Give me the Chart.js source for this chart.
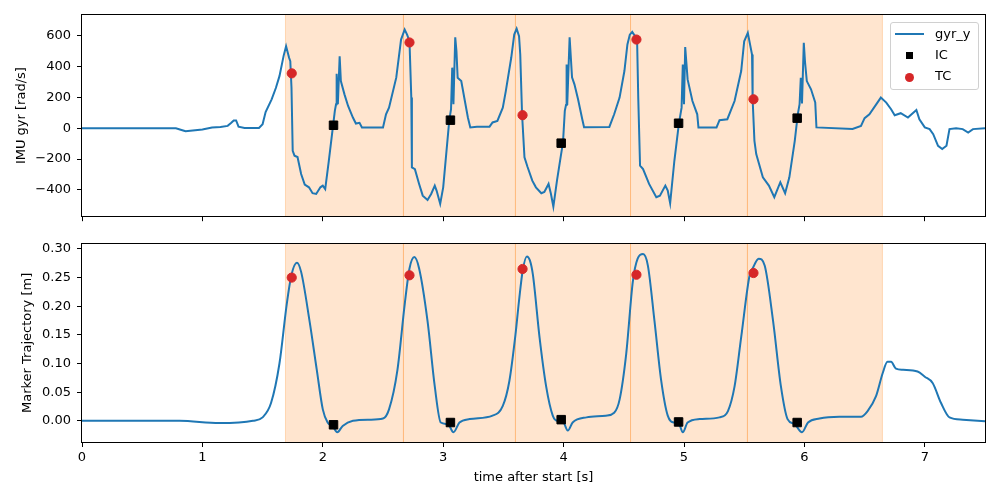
<!DOCTYPE html>
<html>
<head>
<meta charset="utf-8">
<script src="https://cdn.jsdelivr.net/npm/chart.js@4"></script>
<style>
  html, body { margin: 0; padding: 0; background: #fff; }
  #wrap { position: relative; width: 1000px; height: 500px; font-family: "DejaVu Sans", sans-serif; }
  canvas { position: absolute; left: 0; }
  #gyrChart { top: 0; }
  #markerChart { top: 230px; }
  #legend {
    position: absolute; left: 890px; top: 22px; width: 87px; height: 66px;
    border: 1px solid #d0d0d0; border-radius: 3px; background: rgba(255,255,255,0.8);
    font-size: 13px; color: #000;
  }
  .item { position: absolute; left: 0; height: 20px; width: 87px; }
  .item span { position: absolute; left: 44px; top: 1px; }
  .sym { position: absolute; }
</style>
</head>
<body>
<div id="wrap">
  <canvas id="gyrChart" width="1000" height="230"></canvas>
  <canvas id="markerChart" width="1000" height="270"></canvas>
  <div id="legend"></div>
</div>
<script>
// time [s], gyr_y [rad/s]
const gyrTrace = [
  [0, 0], [0.78, 0], [0.84, -15], [0.86, -20], [0.92, -15], [1.00, -8], [1.08, 5], [1.15, 8],
  [1.21, 15], [1.24, 35], [1.26, 50], [1.28, 50], [1.30, 10], [1.35, 2], [1.47, 2], [1.50, 25],
  [1.525, 105], [1.575, 187], [1.61, 260], [1.64, 337], [1.675, 470], [1.695, 531], [1.72, 456],
  [1.73, 434], [1.74, 262], [1.75, -146], [1.765, -178], [1.79, -187], [1.82, -297], [1.85, -365],
  [1.885, -383], [1.915, -421], [1.945, -426], [1.98, -383], [2.00, -372], [2.02, -394], [2.05, -211],
  [2.08, -17], [2.10, 112], [2.11, 155], [2.115, 353], [2.125, 155], [2.14, 466], [2.15, 305],
  [2.18, 219], [2.21, 144], [2.25, 69], [2.275, 30], [2.305, 35], [2.325, 5], [2.50, 5], [2.525, 90],
  [2.55, 133], [2.61, 327], [2.65, 574], [2.68, 639], [2.70, 606], [2.72, 563], [2.735, 198],
  [2.74, -254], [2.765, -265], [2.80, -361], [2.83, -437], [2.87, -465], [2.90, -426], [2.93, -372],
  [2.945, -404], [2.975, -490], [3.00, -383], [3.025, -168], [3.05, 47], [3.065, 123], [3.075, 392],
  [3.085, 155], [3.10, 589], [3.11, 500], [3.12, 327], [3.15, 305], [3.18, 176], [3.205, 69],
  [3.225, 5], [3.28, 10], [3.385, 10], [3.41, 37], [3.45, 47], [3.495, 133], [3.52, 240], [3.565, 456],
  [3.59, 606], [3.61, 645], [3.63, 596], [3.64, 477], [3.655, 90], [3.675, -189], [3.70, -250],
  [3.74, -340], [3.77, -383], [3.815, -421], [3.84, -413], [3.875, -361], [3.895, -426], [3.915, -508],
  [3.945, -340], [3.975, -189], [3.995, -92], [4.01, 112], [4.02, 150], [4.025, 413], [4.03, 150],
  [4.05, 589], [4.07, 329], [4.09, 284], [4.12, 187], [4.155, 58], [4.17, 6], [4.38, 8], [4.42, 90],
  [4.465, 198], [4.505, 370], [4.53, 542], [4.55, 606], [4.57, 624], [4.59, 600], [4.61, 585],
  [4.62, 198], [4.635, -243], [4.66, -265], [4.71, -361], [4.77, -447], [4.80, -437], [4.845, -372],
  [4.865, -404], [4.885, -486], [4.92, -211], [4.957, 26], [4.98, 133], [4.99, 413], [5.00, 155],
  [5.01, 525], [5.03, 316], [5.07, 176], [5.11, 90], [5.12, 5], [5.27, 5], [5.295, 52], [5.36, 58],
  [5.42, 176], [5.475, 370], [5.50, 563], [5.53, 617], [5.565, 477], [5.57, 187], [5.585, -82],
  [5.60, -168], [5.655, -318], [5.705, -372], [5.75, -447], [5.80, -350], [5.84, -421], [5.875, -318],
  [5.92, -82], [5.945, 90], [5.96, 155], [5.97, 327], [5.98, 160], [5.995, 553], [6.005, 430],
  [6.02, 305], [6.055, 252], [6.09, 166], [6.10, 5], [6.40, -5], [6.47, 15], [6.50, 65], [6.54, 90],
  [6.635, 198], [6.68, 166], [6.72, 123], [6.75, 84], [6.80, 97], [6.86, 69], [6.93, 118], [6.955, 58],
  [7.00, 5], [7.04, -6], [7.07, -39], [7.11, -114], [7.145, -135], [7.18, -114], [7.205, -6],
  [7.26, 0], [7.315, -6], [7.36, -28], [7.40, -6], [7.5, 0]
];

// time [s], marker height [m]
const markerTrace = [
  [0, 0], [0.81, 0], [1.14, -0.004], [1.42, 0], [1.50, 0.006], [1.57, 0.031], [1.64, 0.10],
  [1.70, 0.203], [1.74, 0.255], [1.785, 0.276], [1.82, 0.26], [1.89, 0.174], [1.95, 0.089],
  [2.00, 0.020], [2.04, -0.003], [2.08, -0.009], [2.12, -0.020], [2.165, -0.009], [2.25, 0],
  [2.39, 0.002], [2.50, 0.004], [2.55, 0.020], [2.62, 0.089], [2.68, 0.203], [2.72, 0.266],
  [2.76, 0.286], [2.80, 0.266], [2.87, 0.174], [2.93, 0.060], [2.98, -0.003], [3.04, -0.006],
  [3.085, -0.020], [3.135, -0.003], [3.22, 0.003], [3.41, 0.009], [3.495, 0.026], [3.55, 0.07],
  [3.60, 0.15], [3.63, 0.21], [3.66, 0.262], [3.695, 0.287], [3.72, 0.28], [3.745, 0.255],
  [3.80, 0.146], [3.855, 0.060], [3.91, 0.009], [3.95, 0.0], [3.99, 0.0], [4.035, -0.017],
  [4.075, -0.003], [4.19, 0.006], [4.35, 0.009], [4.42, 0.014], [4.465, 0.037], [4.52, 0.117],
  [4.575, 0.243], [4.615, 0.283], [4.66, 0.291], [4.70, 0.271], [4.755, 0.174], [4.81, 0.071],
  [4.865, 0.009], [4.92, -0.003], [4.955, -0.004], [4.99, -0.020], [5.03, -0.003], [5.13, 0.003],
  [5.295, 0.006], [5.365, 0.017], [5.42, 0.060], [5.475, 0.146], [5.545, 0.254], [5.57, 0.266],
  [5.62, 0.283], [5.67, 0.271], [5.74, 0.174], [5.805, 0.060], [5.86, 0.003], [5.92, -0.006],
  [5.98, -0.020], [6.03, -0.003], [6.125, 0.004], [6.29, 0.007], [6.47, 0.007], [6.525, 0.017],
  [6.595, 0.043], [6.65, 0.083], [6.69, 0.103], [6.72, 0.103], [6.76, 0.091], [6.82, 0.089],
  [6.94, 0.086], [7.00, 0.077], [7.065, 0.066], [7.135, 0.031], [7.205, 0.006], [7.315, 0.002],
  [7.5, -0.001]
];

// gait events
const icTime = [2.089, 3.06, 3.98, 4.955, 5.94];
const icGyr = [19, 52, -97, 32, 65];
const icMarker = [-0.007, -0.003, 0.002, -0.002, -0.003];
const tcTime = [1.742, 2.72, 3.659, 4.605, 5.577];
const tcGyr = [355, 555, 84, 574, 187];
const tcMarker = [0.250, 0.254, 0.265, 0.255, 0.258];

// stride boundaries (shaded)
const strideBounds = [1.69, 2.67, 3.60, 4.556, 5.527, 6.648];

const xTicks = [0, 1, 2, 3, 4, 5, 6, 7];
const gyrTicks = [-400, -200, 0, 200, 400, 600];
const markerTicks = [0, 0.05, 0.10, 0.15, 0.20, 0.25, 0.30];

const BLUE = '#1f77b4';
const RED = '#d62728';

Chart.defaults.font.family = '"DejaVu Sans", sans-serif';
Chart.defaults.font.size = 13;
Chart.defaults.color = '#000';

const toXY = arr => arr.map(p => ({x: p[0], y: p[1]}));
const zipXY = (xs, ys) => xs.map((x, i) => ({x: x, y: ys[i]}));
const minus = s => String(s).replace('-', '\u2212');

const spans = {
    id: 'spans',
    beforeDatasetsDraw(chart) {
        const {ctx, chartArea: a, scales: {x}} = chart;
        ctx.save();
        ctx.fillStyle = 'rgba(255,127,14,0.2)';
        ctx.strokeStyle = 'rgba(255,127,14,0.25)';
        ctx.lineWidth = 1;
        for (let i = 0; i < strideBounds.length - 1; i++) {
            const x0 = x.getPixelForValue(strideBounds[i]);
            const x1 = x.getPixelForValue(strideBounds[i + 1]);
            ctx.fillRect(x0, a.top, x1 - x0, a.bottom - a.top);
            ctx.beginPath();
            ctx.moveTo(x0, a.top); ctx.lineTo(x0, a.bottom);
            ctx.moveTo(x1, a.top); ctx.lineTo(x1, a.bottom);
            ctx.stroke();
        }
        ctx.restore();
    }
};

const frame = {
    id: 'frame',
    afterDraw(chart) {
        const {ctx, chartArea: a} = chart;
        ctx.save();
        ctx.strokeStyle = '#000';
        ctx.lineWidth = 1;
        ctx.strokeRect(Math.round(a.left) - 0.5, Math.round(a.top) - 0.5,
            Math.round(a.right - a.left) + 1, Math.round(a.bottom - a.top) + 1);
        ctx.restore();
    }
};

function xScale(showLabels, height) {
    return {
        type: 'linear', min: 0, max: 7.5,
        afterBuildTicks: s => { s.ticks = xTicks.map(v => ({value: v})); },
        afterFit: s => { s.height = height; },
        grid: {drawOnChartArea: false, color: '#000', tickLength: 5},
        border: {display: false},
        ticks: {display: showLabels, padding: 3, maxRotation: 0},
        title: {display: showLabels, text: 'time after start [s]', padding: {top: 0, bottom: 15}}
    };
}

function yScale(min, max, ticks, fmt, title, titlePad) {
    return {
        min: min, max: max,
        afterBuildTicks: s => { s.ticks = ticks.map(v => ({value: v})); },
        afterFit: s => { s.width = 82; },
        grid: {drawOnChartArea: false, color: '#000', tickLength: 5},
        border: {display: false},
        ticks: {padding: 6, callback: v => fmt(v)},
        title: {display: true, text: title, padding: {top: titlePad, bottom: 0}}
    };
}

function eventSets(icY, tcY) {
    return [
        {label: 'IC', data: zipXY(icTime, icY), showLine: false, pointStyle: 'rect', pointRadius: 6,
            backgroundColor: '#000', borderColor: '#000', borderWidth: 1, order: 1},
        {label: 'TC', data: zipXY(tcTime, tcY), showLine: false, pointStyle: 'circle', pointRadius: 4.6,
            backgroundColor: RED, borderColor: RED, borderWidth: 1, order: 1}
    ];
}

const gyrChart = new Chart(document.getElementById('gyrChart'), {
    type: 'line',
    data: {
        datasets: [
            {label: 'gyr_y', data: toXY(gyrTrace), borderColor: BLUE, borderWidth: 2,
                pointRadius: 0, tension: 0, order: 2},
            ...eventSets(icGyr, tcGyr)
        ]
    },
    options: {
        responsive: false, animation: false,
        layout: {padding: {top: 15, right: 15, left: 0, bottom: 0}},
        plugins: {legend: {display: false}, tooltip: {enabled: false}},
        scales: {
            x: xScale(false, 13),
            y: yScale(-570, 733, gyrTicks, v => minus(v), 'IMU gyr [rad/s]', 14)
        }
    },
    plugins: [spans, frame]
});

const markerChart = new Chart(document.getElementById('markerChart'), {
    type: 'line',
    data: {
        datasets: [
            {label: 'marker', data: toXY(markerTrace), borderColor: BLUE, borderWidth: 2,
                pointRadius: 0, cubicInterpolationMode: 'monotone', order: 2},
            ...eventSets(icMarker, tcMarker)
        ]
    },
    options: {
        responsive: false, animation: false,
        layout: {padding: {top: 9, right: 15, left: 0, bottom: 0}},
        plugins: {legend: {display: false}, tooltip: {enabled: false}},
        scales: {
            x: xScale(true, 58),
            y: yScale(-0.037, 0.309, markerTicks, v => minus(v.toFixed(2)), 'Marker Trajectory [m]', 20)
        }
    },
    plugins: [spans, frame]
});

// legend in the upper right of the gyro panel
const legend = document.getElementById('legend');
const rows = [
    {ds: gyrChart.data.datasets[0], top: 2, sym: 'line'},
    {ds: gyrChart.data.datasets[1], top: 23, sym: 'rect'},
    {ds: gyrChart.data.datasets[2], top: 44, sym: 'circle'}
];
rows.forEach(r => {
    const item = document.createElement('div');
    item.className = 'item';
    item.style.top = r.top + 'px';
    const s = document.createElement('div');
    s.className = 'sym';
    if (r.sym === 'line') {
        s.style.cssText = 'left:4px;top:8px;width:29px;height:2px;background:' + r.ds.borderColor;
    } else if (r.sym === 'rect') {
        s.style.cssText = 'left:15px;top:6px;width:7px;height:7px;background:' + r.ds.backgroundColor;
    } else {
        s.style.cssText = 'left:14px;top:6px;width:9px;height:9px;border-radius:50%;background:' + r.ds.backgroundColor;
    }
    const t = document.createElement('span');
    t.textContent = r.ds.label;
    item.appendChild(s);
    item.appendChild(t);
    legend.appendChild(item);
});
</script>
</body>
</html>
